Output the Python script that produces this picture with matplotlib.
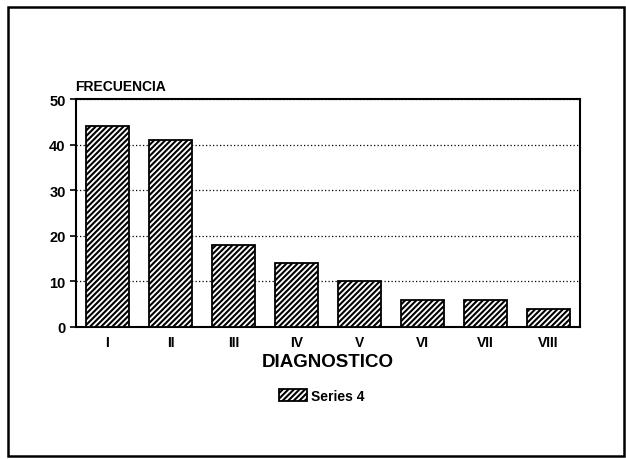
import matplotlib.pyplot as plt
from matplotlib.patches import Rectangle

plt.rcParams["font.family"] = ["Liberation Sans", "DejaVu Sans"]
plt.rcParams["font.weight"] = "bold"
plt.rcParams["hatch.linewidth"] = 1.5

# data
categories = ["I", "II", "III", "IV", "V", "VI", "VII", "VIII"]
frecuencia = [44, 41, 18, 14, 10, 6, 6, 4]
y_ticks = [0, 10, 20, 30, 40, 50]
series_name = "Series 4"

fig = plt.figure(figsize=(6.26, 4.6), dpi=100)
ax = fig.add_axes([76 / 626, 1 - 328 / 460, 504 / 626, 228 / 460])

x = range(len(categories))
ax.bar(x, frecuencia, width=0.68, color="white", edgecolor="black",
       linewidth=1.3, hatch="//////", label=series_name, zorder=3)

ax.set_xlim(-0.5, len(categories) - 0.5)
ax.set_ylim(0, 50)
ax.set_yticks(y_ticks)
ax.set_xticks(list(x))
ax.set_xticklabels(categories)
ax.tick_params(axis="y", labelsize=10.5, length=4, width=1.2)
ax.tick_params(axis="x", labelsize=10, length=0, pad=6)
ax.yaxis.grid(True, linestyle=(0, (1, 1.8)), color="black", linewidth=0.9, zorder=0)
for s in ax.spines.values():
    s.set_linewidth(1.5)

ax.set_xlabel("DIAGNOSTICO", fontsize=13.5, fontweight="bold", labelpad=3)
ax.text(-0.002, 1.025, "FRECUENCIA", transform=ax.transAxes, fontsize=10,
        fontweight="bold", ha="left", va="bottom")

fig.legend(loc="center", bbox_to_anchor=(322 / 626, 1 - 397 / 460),
           frameon=False, fontsize=10, handlelength=2.0, handleheight=1.0,
           handletextpad=0.3)

# outer frame around the whole picture
fig.patches.append(Rectangle((8 / 626, 1 - 457 / 460), 616 / 626, 449 / 460,
                             transform=fig.transFigure, fill=False,
                             edgecolor="black", linewidth=1.8))

plt.savefig("out.png", dpi=100)
